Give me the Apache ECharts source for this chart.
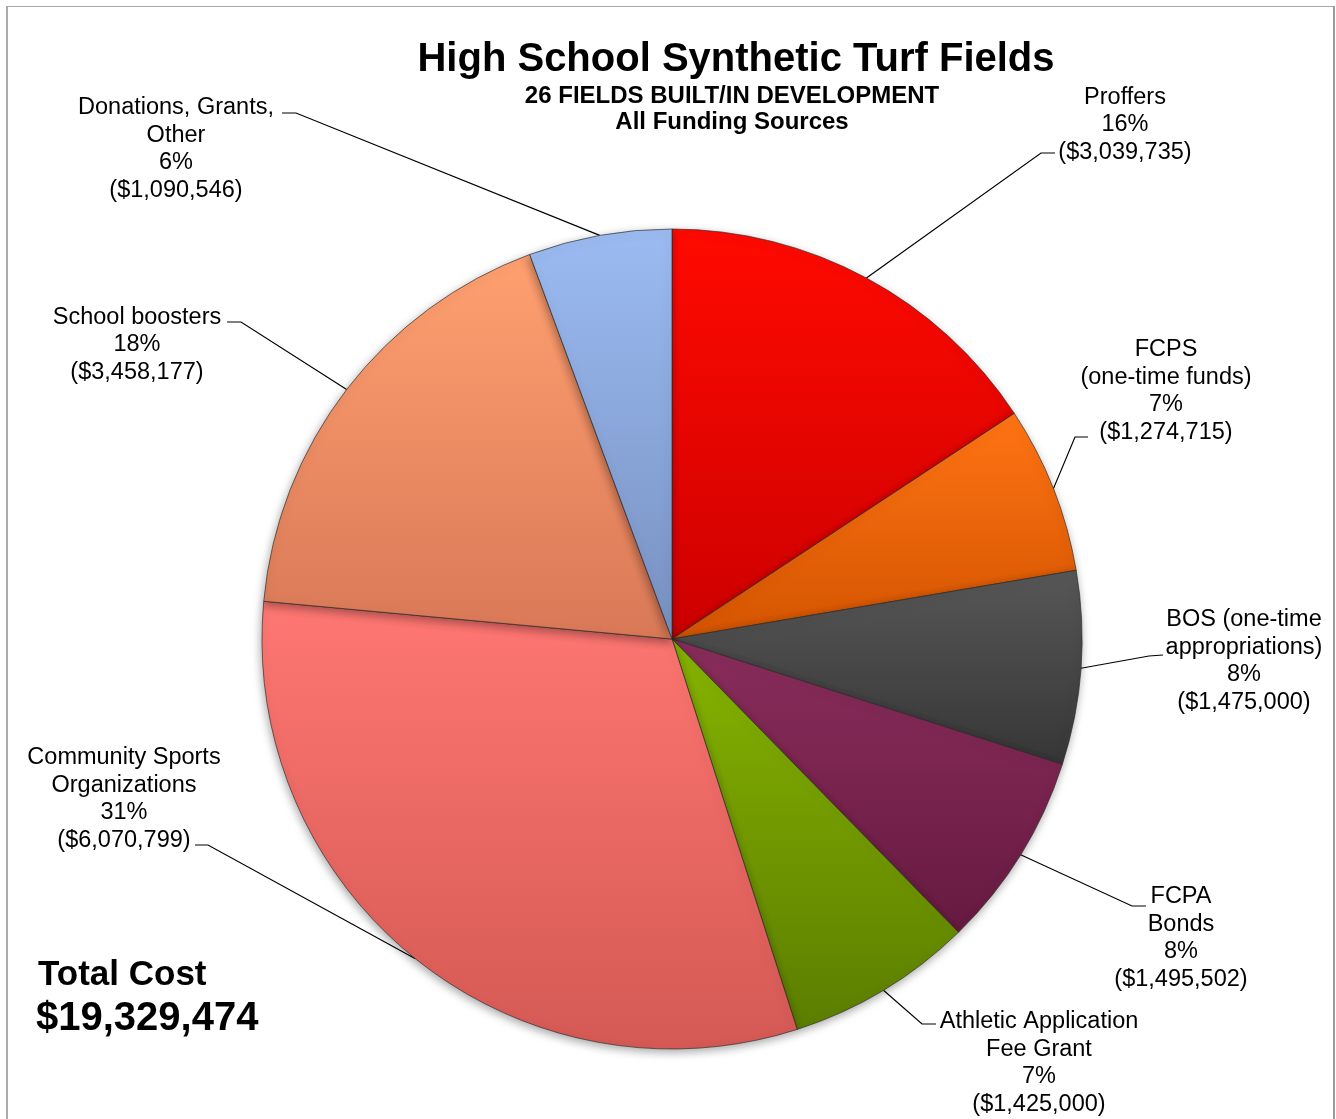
<!DOCTYPE html>
<html>
<head>
<meta charset="utf-8">
<script src="https://cdn.jsdelivr.net/npm/echarts@6/dist/echarts.min.js"></script>
<style>
  html, body { margin: 0; padding: 0; background: #fff; }
  #chart { position: absolute; left: 0; top: 0; width: 1336px; height: 1119px; }
  #frame { position: absolute; left: 6px; top: 6px; width: 1325px; height: 1200px;
           border-left: 2px solid #ababab; border-top: 1px solid #a8a8a8; border-right: 2px solid #9a9a9a;
           pointer-events: none; }
</style>
</head>
<body>
<div id="chart"></div>
<div id="frame"></div>
<script>
// Funding sources, clockwise from 12 o'clock
const categories = [
  'Proffers',
  'FCPS\n(one-time funds)',
  'BOS (one-time\nappropriations)',
  'FCPA\nBonds',
  'Athletic Application\nFee Grant',
  'Community Sports\nOrganizations',
  'School boosters',
  'Donations, Grants,\nOther'
];
const amounts = [3039735, 1274715, 1475000, 1495502, 1425000, 6070799, 3458177, 1090546];

const titleText = 'High School Synthetic Turf Fields';
const subtitleLines = ['26 FIELDS BUILT/IN DEVELOPMENT', 'All Funding Sources'];
const totalCaption = 'Total Cost';

// slice fills: [top, bottom] of a soft vertical shading
const sliceColors = [
  ['#ff0a00', '#cc0000'],
  ['#ff7414', '#d35400'],
  ['#575757', '#363636'],
  ['#8a2d5c', '#661a40'],
  ['#86b400', '#5c7d00'],
  ['#ff7772', '#d45954'],
  ['#ffa070', '#d87857'],
  ['#9bbbf2', '#7890c0']
];

// where each label block sits, and where its leader line meets it
const labelSpots = [
  { cx: 1125, cy: 125,  ax: 1055, ay: 153, ex: 1041, ey: 153 },
  { cx: 1166, cy: 391,  ax: 1088, ay: 437, ex: 1075, ey: 437 },
  { cx: 1244, cy: 661,  ax: 1163, ay: 655, ex: 1149, ey: 656 },
  { cx: 1181, cy: 938,  ax: 1146, ay: 906, ex: 1132, ey: 906 },
  { cx: 1039, cy: 1063, ax: 936,  ay: 1024, ex: 922, ey: 1024 },
  { cx: 124,  cy: 799,  ax: 195,  ay: 845, ex: 208,  ey: 845 },
  { cx: 137,  cy: 345,  ax: 227,  ay: 322, ex: 241,  ey: 322 },
  { cx: 176,  cy: 149,  ax: 282,  ay: 113, ex: 296,  ey: 113 }
];

const FONT = "'Liberation Sans', Arial, Helvetica, sans-serif";
const total = amounts.reduce((a, b) => a + b, 0);
const money = v => '$' + v.toLocaleString('en-US');

const pieData = categories.map((name, i) => ({
  name: name,
  value: amounts[i],
  itemStyle: {
    color: new echarts.graphic.LinearGradient(0, 0, 0, 1, [
      { offset: 0, color: sliceColors[i][0] },
      { offset: 1, color: sliceColors[i][1] }
    ])
  }
}));

const chart = echarts.init(document.getElementById('chart'), null, { renderer: 'canvas' });

chart.setOption({
  animation: false,
  backgroundColor: 'transparent',
  graphic: [
    { type: 'text', x: 736, y: 60, style: { text: titleText, font: 'bold 40px ' + FONT, fill: '#000', align: 'center', verticalAlign: 'middle' } },
    { type: 'text', x: 732, y: 96, style: { text: subtitleLines[0], font: 'bold 24px ' + FONT, fill: '#000', align: 'center', verticalAlign: 'middle' } },
    { type: 'text', x: 732, y: 122, style: { text: subtitleLines[1], font: 'bold 24px ' + FONT, fill: '#000', align: 'center', verticalAlign: 'middle' } },
    { type: 'text', x: 38, y: 975, style: { text: totalCaption, font: 'bold 35px ' + FONT, fill: '#000', align: 'left', verticalAlign: 'middle' } },
    { type: 'text', x: 36, y: 1019, style: { text: money(total), font: 'bold 40px ' + FONT, fill: '#000', align: 'left', verticalAlign: 'middle' } }
  ],
  series: [{
    type: 'pie',
    center: [672, 639],
    radius: [0, 410],
    startAngle: 90,
    clockwise: true,
    avoidLabelOverlap: false,
    silent: true,
    itemStyle: {
      borderColor: 'rgba(40,40,40,0.65)',
      borderWidth: 1,
      shadowBlur: 10,
      shadowColor: 'rgba(0,0,0,0.35)',
      shadowOffsetX: -1,
      shadowOffsetY: 3
    },
    label: {
      show: true,
      position: 'outside',
      color: '#000',
      fontFamily: FONT,
      fontSize: 23.5,
      lineHeight: 27.5,
      align: 'center',
      formatter: p => p.name + '\n' + Math.round(p.percent) + '%\n(' + money(p.value) + ')'
    },
    labelLine: {
      show: true,
      length: 20,
      length2: 10,
      smooth: false,
      lineStyle: { color: '#000', width: 1.2 }
    },
    labelLayout: function (params) {
      const s = labelSpots[params.dataIndex];
      const start = params.labelLinePoints ? params.labelLinePoints[0] : [s.ex, s.ey];
      return {
        x: s.cx,
        y: s.cy,
        align: 'center',
        verticalAlign: 'middle',
        labelLinePoints: [start, [s.ex, s.ey], [s.ax, s.ay]]
      };
    },
    emphasis: { disabled: true },
    data: pieData
  }]
});
</script>
</body>
</html>
